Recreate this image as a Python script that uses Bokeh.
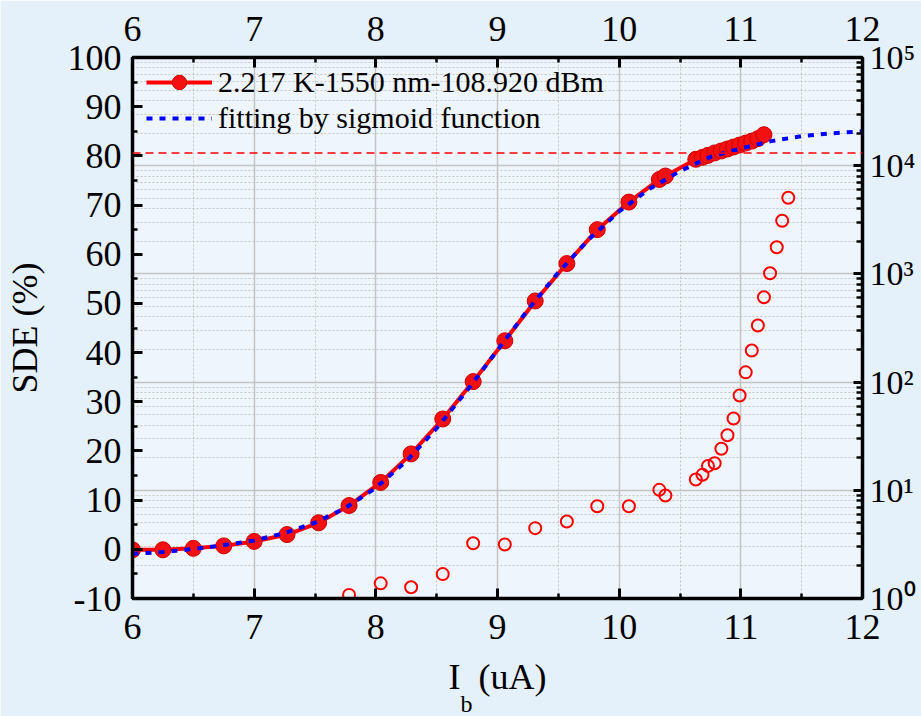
from bokeh.plotting import figure
from bokeh.models import (Range1d, LinearAxis, LogAxis, LogScale, FixedTicker,
                          Grid, Legend, LegendItem, Span, Title)
from bokeh.embed import file_html
from bokeh.resources import INLINE

# ---------------- data ----------------
ib_sde = [6.0, 6.25, 6.5, 6.75, 7.0, 7.27, 7.53, 7.78, 8.04, 8.29, 8.55, 8.8, 9.06,
          9.31, 9.57, 9.82, 10.08, 10.33, 10.38,
          10.63, 10.685, 10.73, 10.785, 10.84, 10.89, 10.94, 10.99, 11.04, 11.09,
          11.14, 11.19]
sde = [-0.1, -0.1, 0.2, 0.7, 1.6, 3.0, 5.4, 8.9, 13.6, 19.4, 26.5, 34.1, 42.4,
       50.5, 58.1, 65.0, 70.6, 75.2, 75.9,
       79.3, 79.7, 80.1, 80.6, 81.0, 81.4, 81.8, 82.2, 82.6, 83.0, 83.5, 84.3]

ib_dark = [7.78, 8.04, 8.29, 8.55, 8.8, 9.06, 9.31, 9.57, 9.82, 10.08, 10.33, 10.38,
           10.63, 10.685, 10.73, 10.785, 10.84, 10.89, 10.94, 10.99, 11.04, 11.09,
           11.14, 11.19, 11.24, 11.295, 11.34, 11.39]
dark_counts = [1.08, 1.38, 1.27, 1.68, 3.24, 3.16, 4.47, 5.15, 7.13, 7.13, 10.1, 8.95,
               12.6, 13.9, 16.8, 17.8, 24.2, 32.3, 46.1, 75.2, 123, 196,
               334, 609, 1015, 1766, 3097, 5050]

ib_fit = [6.0, 6.25, 6.5, 6.75, 7.0, 7.25, 7.5, 7.75, 8.0, 8.25, 8.5, 8.75, 9.0,
          9.25, 9.5, 9.75, 10.0, 10.25, 10.5, 10.75, 11.0, 11.25, 11.5, 11.75, 12.0]
sde_fit = [-0.9, -0.55, 0.05, 0.85, 1.8, 3.3, 5.4, 8.4, 12.5, 17.9, 24.6, 32.3, 40.5,
           48.7, 56.3, 63.0, 68.7, 73.3, 76.9, 79.8, 81.5, 83.0, 84.0, 84.6, 85.0]

sde_threshold = 80.6

x_ticks = [6, 7, 8, 9, 10, 11, 12]
sde_ticks = [-10, 0, 10, 20, 30, 40, 50, 60, 70, 80, 90, 100]
log_ticks = [1, 10, 100, 1000, 10000, 100000]
log_tick_labels = ["10⁰", "10¹", "10²", "10³", "10⁴", "10⁵"]

series_label = "2.217 K-1550 nm-108.920 dBm"
fit_label = "fitting by sigmoid function"
x_label_main = "I\u00a0\u00a0(uA)"   # I_b (uA): the subscript b is added below
x_label_sub = "b"
y_label = "SDE (%)"

FONT = "Liberation Serif"

# ---------------- figure ----------------
p = figure(width=921, height=716, x_range=Range1d(6, 12), y_range=Range1d(-10, 100),
           output_backend="svg", toolbar_location=None,
           min_border_left=132, min_border_right=59, min_border_top=57,
           min_border_bottom=118,
           background_fill_color="#eef5fc", border_fill_color="#e4f0fa",
           outline_line_color="black", outline_line_width=3)
p.extra_y_ranges = {"log": Range1d(1, 100000)}
p.extra_y_scales = {"log": LogScale()}

bottom_axis = p.below[0]
left_axis = p.left[0]

x_minor = [t + 0.5 for t in x_ticks[:-1]]
x_ticker = FixedTicker(ticks=x_ticks, minor_ticks=x_minor)
y_ticker = FixedTicker(ticks=sde_ticks, minor_ticks=[t + 5 for t in sde_ticks[:-1]])
log_minor = [m * d for d in log_ticks[:-1] for m in range(2, 10)]
log_ticker = FixedTicker(ticks=log_ticks, minor_ticks=log_minor)

top_axis = LinearAxis(ticker=x_ticker)
p.add_layout(top_axis, "above")
right_axis = LogAxis(y_range_name="log", ticker=log_ticker)
p.add_layout(right_axis, "right")

bottom_axis.ticker = x_ticker
left_axis.ticker = y_ticker

for ax in [bottom_axis, top_axis, left_axis, right_axis]:
    ax.axis_line_color = "black"
    ax.axis_line_width = 3.5
    ax.major_tick_line_color = "black"
    ax.minor_tick_line_color = "black"
    ax.major_tick_line_width = 3
    ax.minor_tick_line_width = 2.5
    ax.major_tick_out = 0
    ax.minor_tick_out = 0
    ax.major_tick_in = 10
    ax.minor_tick_in = 5
    ax.major_label_text_font = FONT
    ax.major_label_text_font_size = "36px"
    ax.major_label_text_color = "black"

left_axis.major_label_standoff = 11
left_axis.major_label_overrides = {-10: "-10"}
left_axis.axis_label = y_label
left_axis.axis_label_text_font = FONT
left_axis.axis_label_text_font_size = "36px"
left_axis.axis_label_text_font_style = "normal"
left_axis.axis_label_text_color = "black"
left_axis.axis_label_standoff = 20

bottom_axis.major_label_standoff = 16
bottom_axis.axis_label = x_label_main
bottom_axis.axis_label_text_font = FONT
bottom_axis.axis_label_text_font_size = "36px"
bottom_axis.axis_label_text_font_style = "normal"
bottom_axis.axis_label_text_color = "black"
bottom_axis.axis_label_standoff = 15

top_axis.major_label_standoff = 17

right_axis.major_label_overrides = dict(zip(log_ticks, log_tick_labels))
right_axis.major_label_text_font_size = "34px"
right_axis.major_label_standoff = 7
right_axis.major_tick_in = 9
right_axis.minor_tick_in = 6

# subscript "b" of I_b, placed under the axis label
p.add_layout(Title(text=x_label_sub, align="left", offset=328, standoff=-34,
                   text_font=FONT, text_font_size="24px", text_font_style="normal",
                   text_color="black"), "below")

# grids
p.xgrid.ticker = x_ticker
p.xgrid.grid_line_color = "#c4c4c4"
p.xgrid.grid_line_width = 1.5
p.xgrid.minor_grid_line_color = "#c4c4c4"
p.xgrid.minor_grid_line_width = 1
p.xgrid.minor_grid_line_dash = "2 2"
p.ygrid.visible = False
log_grid = Grid(dimension=1, ticker=log_ticker, y_range_name="log",
                grid_line_color="#c4c4c4", grid_line_width=1.5,
                minor_grid_line_color="#c4c4c4", minor_grid_line_width=1,
                minor_grid_line_dash="2 2")
p.add_layout(log_grid)

# threshold line
p.add_layout(Span(location=sde_threshold, dimension="width", line_color="#ff0000",
                  line_width=1.5, line_dash="8 5"))

# dark counts (right log axis)
p.scatter(ib_dark, dark_counts, y_range_name="log", marker="circle", size=12,
          fill_color=None, line_color="#ff0000", line_width=2)

# SDE data
r_line = p.line(ib_sde, sde, line_color="#ff0000", line_width=4)
r_pts = p.scatter(ib_sde, sde, marker="circle", size=16, fill_color="#f21010",
                  line_color="#d00000", line_width=1)
r_fit = p.line(ib_fit, sde_fit, line_color="#0000ff", line_width=4, line_dash="6 7")

legend = Legend(items=[LegendItem(label=series_label, renderers=[r_line, r_pts]),
                       LegendItem(label=fit_label, renderers=[r_fit])],
                location=(14, 462), margin=0, padding=0, spacing=0,
                glyph_width=66, glyph_height=36, label_height=36, label_standoff=6,
                label_text_font=FONT, label_text_font_size="30px",
                label_text_color="black",
                background_fill_alpha=0, border_line_alpha=0)
p.add_layout(legend)

open("out.html", "w").write(file_html(p, INLINE))
